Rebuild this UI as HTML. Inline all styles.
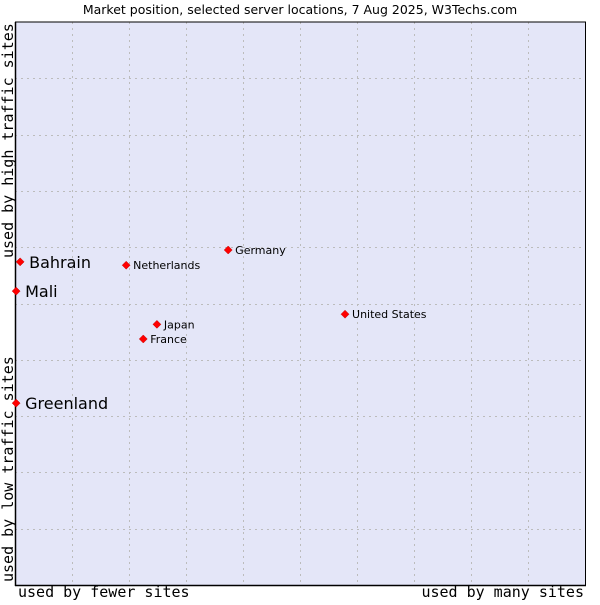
<!DOCTYPE html>
<html><head><meta charset="utf-8"><style>
body{margin:0;background:#fff;}
svg text{font-family:"DejaVu Sans","Liberation Sans",sans-serif;}
.mono{font-family:"DejaVu Sans Mono","Liberation Mono",monospace;}
</style></head><body>
<svg id="chart" width="600" height="600" viewBox="0 0 600 600" xmlns="http://www.w3.org/2000/svg">
<text x="300" y="14" text-anchor="middle" font-size="12.5" fill="#000">Market position, selected server locations, 7 Aug 2025, W3Techs.com</text>
<rect x="15" y="22" width="570" height="563" fill="#e4e6f8" stroke="none"/>
<g id="grid"></g>
<line x1="15.5" y1="22" x2="15.5" y2="586" stroke="#000" stroke-width="1.5"/>
<line x1="15" y1="585.5" x2="586" y2="585.5" stroke="#000" stroke-width="1.5"/>
<line x1="15" y1="22" x2="586" y2="22" stroke="#000" stroke-width="1"/>
<line x1="585.5" y1="22" x2="585.5" y2="586" stroke="#000" stroke-width="1"/>
<g id="points"></g>
<text class="mono" x="18" y="597" font-size="15">used by fewer sites</text>
<text class="mono" x="584" y="597" font-size="15" text-anchor="end">used by many sites</text>
<text class="mono" transform="translate(13,582) rotate(-90)" font-size="15">used by low traffic sites</text>
<text class="mono" transform="translate(13,258) rotate(-90)" font-size="15">used by high traffic sites</text>
</svg>
<script>
const names=["Bahrain","Mali","Greenland","Netherlands","Germany","Japan","France","United States"];
const xs=[0.9,0.2,0.2,19.5,37.4,24.9,22.5,57.9];
const ys=[57.4,52.2,32.3,56.8,59.5,46.3,43.7,48.1];
const big=[true,true,true,false,false,false,false,false];
const X0=15,X1=585,Y0=585,Y1=22;
const sx=v=>X0+v/100*(X1-X0);
const sy=v=>Y0-v/100*(Y0-Y1);
const NS="http://www.w3.org/2000/svg";
const grid=document.getElementById('grid');
for(let i=1;i<10;i++){
 let l=document.createElementNS(NS,'line');
 
 
 let x=Math.round(sx(i*10))+0.5;
 l.setAttribute('x1',x);l.setAttribute('x2',x);l.setAttribute('y1',Y1);l.setAttribute('y2',Y0);
 l.setAttribute('stroke','#bcbcbc');l.setAttribute('stroke-dasharray','2,4');
 grid.appendChild(l);
 let h=document.createElementNS(NS,'line');
 
 
 let y=Math.round(sy(i*10))+0.5;
 h.setAttribute('y1',y);h.setAttribute('y2',y);h.setAttribute('x1',X0);h.setAttribute('x2',X1);
 h.setAttribute('stroke','#bcbcbc');h.setAttribute('stroke-dasharray','2,4');
 grid.appendChild(h);
}
const pts=document.getElementById('points');
names.forEach((n,i)=>{
 const x=sx(xs[i]),y=sy(ys[i]);
 let d=document.createElementNS(NS,'path');
 
 
 d.setAttribute('d',`M${x},${y-4}L${x+4},${y}L${x},${y+4}L${x-4},${y}Z`);
 d.setAttribute('fill','#ff0000');d.setAttribute('stroke','#c00000');d.setAttribute('stroke-width','0.5');
 pts.appendChild(d);
 let t=document.createElementNS(NS,'text');
 
 
 t.setAttribute('x',x+(big[i]?9:7));
 t.setAttribute('y',y+(big[i]?6:4));
 t.setAttribute('font-size',big[i]?16:11);
 t.textContent=n;
 pts.appendChild(t);
});
</script>
</body></html>
